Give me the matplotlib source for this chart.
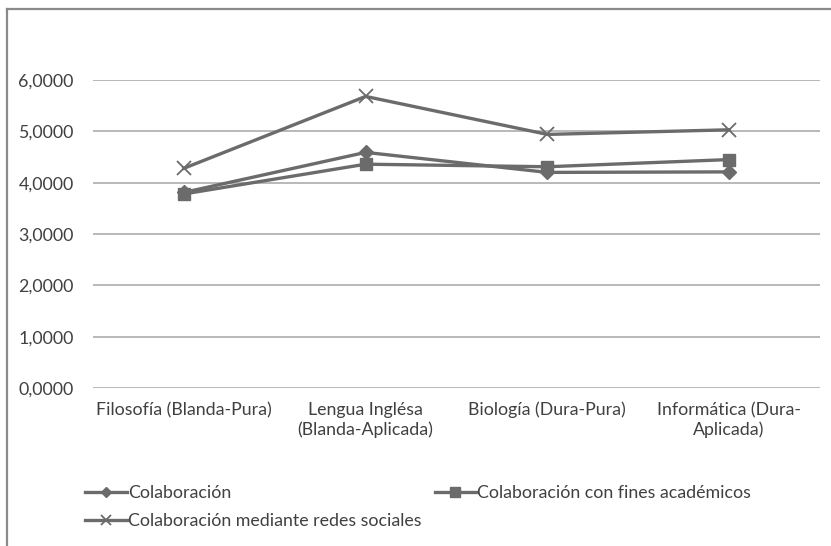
import matplotlib
matplotlib.use("Agg")
import matplotlib.pyplot as plt
from matplotlib.lines import Line2D

categories = ["Filosofía (Blanda-Pura)", "Lengua Inglésa\n(Blanda-Aplicada)",
              "Biología (Dura-Pura)", "Informática (Dura-\nAplicada)"]
colaboracion = [3.81, 4.59, 4.20, 4.21]
academicos = [3.78, 4.36, 4.31, 4.45]
redes = [4.28, 5.68, 4.94, 5.03]
yticks = [0, 1, 2, 3, 4, 5, 6]
ytick_labels = ["0,0000", "1,0000", "2,0000", "3,0000", "4,0000", "5,0000", "6,0000"]

plt.rcParams['font.family'] = ['Lato', 'DejaVu Sans']
txt = "#404040"
lc = "#6b6b6b"
fs = 12.8

fig = plt.figure(figsize=(8.31, 5.46), dpi=100)
ax = fig.add_axes([93/831, 1-388/546, (820-93)/831, (388-80)/546])

x = list(range(len(categories)))
l1, = ax.plot(x, colaboracion, color=lc, lw=2.4, marker='D', ms=7, mfc=lc, mec=lc, label="Colaboración")
l2, = ax.plot(x, academicos, color=lc, lw=2.4, marker='s', ms=9, mfc=lc, mec=lc, label="Colaboración con fines académicos")
l3, = ax.plot(x, redes, color=lc, lw=2.4, marker='x', ms=10, mew=1.3, mfc=lc, mec=lc, label="Colaboración mediante redes sociales")

ax.set_xlim(-0.5, 3.5)
ax.set_ylim(0, 6)
ax.set_yticks(yticks)
ax.set_yticklabels(ytick_labels, fontsize=fs, color=txt)
ax.set_xticks(x)
ax.set_xticklabels(categories, fontsize=fs, color=txt, linespacing=1.25)
ax.yaxis.grid(True, color="#a6a6a6", lw=1.1)
ax.set_axisbelow(True)
for s in ax.spines.values():
    s.set_visible(False)
ax.tick_params(axis='both', length=0)
ax.tick_params(axis='y', pad=14)
ax.tick_params(axis='x', pad=10)

# frame around chart
fig.add_artist(Line2D([7/831, 7/831], [0, 1-9/546], transform=fig.transFigure, color="#8a8a8a", lw=1.6))
fig.add_artist(Line2D([7/831, 1], [1-9/546, 1-9/546], transform=fig.transFigure, color="#8a8a8a", lw=1.6))

leg = fig.legend([l1, l3, l2],
                 ["Colaboración", "Colaboración mediante redes sociales", "Colaboración con fines académicos"],
                 ncol=2, loc='upper left', bbox_to_anchor=(85/831, 1-485/546),
                 frameon=False, fontsize=fs, handlelength=2.35, handletextpad=0.05,
                 columnspacing=0.75, labelspacing=0.7, labelcolor=txt, borderaxespad=0, borderpad=0,
                 markerscale=0.75)

fig.savefig("out.png", dpi=100)
